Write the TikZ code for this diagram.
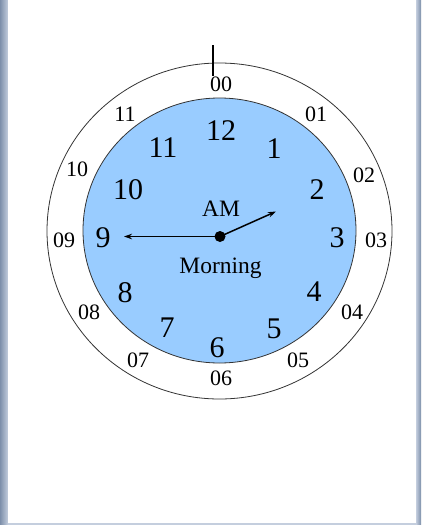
\documentclass[tikz,border=0pt]{standalone}
\usepackage{fontspec}
\setmainfont{Liberation Serif}
\usetikzlibrary{arrows.meta}
\definecolor{faceblue}{RGB}{153,204,255}
\definecolor{frameA}{RGB}{125,143,170}
\definecolor{frameB}{RGB}{196,206,222}
\begin{document}
\begin{tikzpicture}[x=1pt,y=-1pt,
  innernum/.style={font=\fontsize{30}{30}\selectfont, inner sep=0pt},
  outernum/.style={font=\fontsize{22}{22}\selectfont, inner sep=0pt},
  label/.style={font=\fontsize{23.5}{23.5}\selectfont, inner sep=0pt, anchor=base},
  ring/.style={draw=black!80, line width=0.8pt},
  hand/.style={line width=1.5pt, -{Stealth[length=8pt,width=5.5pt]}}]
\useasboundingbox (0,0) rectangle (421,525);
\fill[frameB] (0,0) rectangle (421,525);
\shade[left color=frameA, right color=frameB] (0,0) rectangle (8,525);
\shade[left color=frameB, right color=frameA] (416,0) rectangle (421,525);
\fill[white] (8,0) rectangle (416,523);
% rings
\draw[ring, fill=white] (219.5,231) ellipse [x radius=172.5pt, y radius=168pt];
\draw[ring, fill=faceblue] (219.5,230.5) ellipse [x radius=136.5pt, y radius=132.5pt];
% top tick
\coordinate (ticktop) at (213,45);
\coordinate (tickbot) at (213,76);
\draw[line width=2pt] (ticktop) -- (tickbot);
% outer numbers
\node[outernum] (o00) at (221,84) {00};
\node[outernum] (o01) at (316,114) {01};
\node[outernum] (o02) at (364,175) {02};
\node[outernum] (o03) at (376,240) {03};
\node[outernum] (o04) at (352,312) {04};
\node[outernum] (o05) at (298,360) {05};
\node[outernum] (o06) at (221,378) {06};
\node[outernum] (o07) at (138,360) {07};
\node[outernum] (o08) at (89,312) {08};
\node[outernum] (o09) at (64,240) {09};
\node[outernum] (o10) at (77,169) {10};
\node[outernum] (o11) at (125,114) {11};
% inner numbers
\node[innernum] (i12) at (221,131) {12};
\node[innernum] (i1) at (274,149) {1};
\node[innernum] (i2) at (317,190) {2};
\node[innernum] (i3) at (337,238) {3};
\node[innernum] (i4) at (314,292) {4};
\node[innernum] (i5) at (274,329) {5};
\node[innernum] (i6) at (217,348) {6};
\node[innernum] (i7) at (167,328) {7};
\node[innernum] (i8) at (125,293) {8};
\node[innernum] (i9) at (103,238) {9};
\node[innernum] (i10) at (128,190) {10};
\node[innernum] (i11) at (163,148) {11};
% labels
\node[label] (am) at (221,216) {AM};
\node[label] (morning) at (220.5,273) {Morning};
% hands
\coordinate (hub) at (220,236.5);
\coordinate (mintip) at (124,236.5);
\coordinate (hourtip) at (276,211.5);
\draw[hand] (hub) -- (mintip);
\draw[hand] (hub) -- (hourtip);
\fill (hub) circle [radius=5.5pt];
\end{tikzpicture}
\end{document}
